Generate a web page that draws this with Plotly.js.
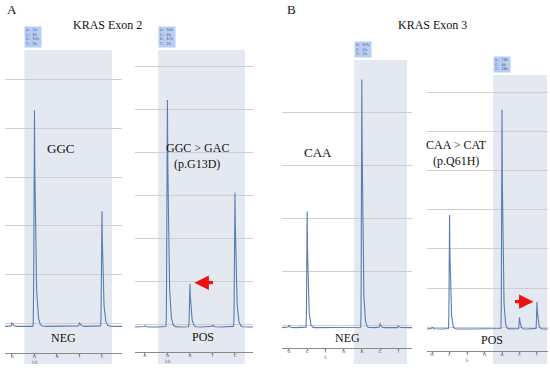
<!DOCTYPE html>
<html><head><meta charset="utf-8">
<script src="https://cdn.plot.ly/plotly-3.0.1.min.js"></script>
<style>html,body{margin:0;padding:0;background:#fff}#c{width:550px;height:368px}</style>
</head><body><div id="c"></div>
<script>
// ---- data ----
const dispensations1 = ['A','G','A','T','C'];
const peaks1 = [0.08, 4.44, 0.0, 0.08, 2.37];      // KRAS exon 2, NEG
const dispensations2 = ['A','G','A','T','C'];
const peaks2 = [0.03, 5.28, 1.0, 0.05, 3.12];      // KRAS exon 2, POS
const dispensations3 = ['G','C','T','G','A','C','T'];
const peaks3 = [0.05, 2.18, 0.0, 0.0, 4.66, 0.08, 0.03]; // KRAS exon 3, NEG
const dispensations4 = ['G','C','T','G','A','C','T'];
const peaks4 = [0.05, 2.92, 0.0, 0.0, 5.62, 0.3, 0.69];  // KRAS exon 3, POS
const tickNumbers1 = ['', '10', '', '', ''];
const tickNumbers2 = ['', '10', '', '', ''];
const tickNumbers3 = ['', '', '5', '', '', '', ''];
const tickNumbers4 = ['', '', '5', '', '', '', ''];
const alleles1 = 'A: 1%<br>C: 6%<br>G: 91%<br>T: 2%';
const alleles2 = 'A: 31%<br>C: 0%<br>G: 67%<br>T: 2%';
const alleles3 = 'A: 97%<br>C: 2%<br>T: 1%';
const alleles4 = 'A: 70%<br>C: 4%<br>T: 26%';

// ---- layout helpers ----
const W = 550, H = 368;
const px = x => x / W, py = y => 1 - y / H;
const LINE = '#5a7db3', GRID = '#cfcfcf', SHADE = '#e4e9f1', AX = '#8a8a8a';
const SERIF = '"Liberation Serif", "DejaVu Serif", serif';

const panels = [
  {disp: dispensations1, peaks: peaks1, nums: tickNumbers1, lab: alleles1,
   xd: [5, 122], yd: [50, 353], xr: [-0.31, 4.89], yr: [-0.617, 5.617], shade: [0.55, 4.45], shadeTop: 50, base: -0.07},
  {disp: dispensations2, peaks: peaks2, nums: tickNumbers2, lab: alleles2,
   xd: [135, 253], yd: [50, 352], xr: [-0.44, 4.8], yr: [-0.651, 6.372], shade: [0.58, 4.44], shadeTop: 50, base: -0.07},
  {disp: dispensations3, peaks: peaks3, nums: tickNumbers3, lab: alleles3,
   xd: [282, 412], yd: [60, 348], xr: [-0.38, 6.75], yr: [-0.432, 4.977], shade: [3.57, 6.48], shadeTop: 60, base: -0.05},
  {disp: dispensations4, peaks: peaks4, nums: tickNumbers4, lab: alleles4,
   xd: [427, 548], yd: [75, 351], xr: [-0.29, 6.63], yr: [-0.615, 6.46], shade: [3.49, 6.57], shadeTop: 75, base: -0.05}
];

function peakShape(d) {
  if (d < 0) return Math.exp(-Math.pow(d / 0.028, 2));
  return Math.exp(-d / 0.055);
}

const data = [];
const layout = {
  width: W, height: H, margin: {l: 0, r: 0, t: 0, b: 0},
  paper_bgcolor: '#fff', plot_bgcolor: 'rgba(0,0,0,0)', showlegend: false,
  shapes: [], annotations: []
};

panels.forEach((p, k) => {
  const n = k + 1, xa = 'x' + (n === 1 ? '' : n), ya = 'y' + (n === 1 ? '' : n);
  const xs = [], ys = [];
  for (let x = p.xr[0]; x <= p.xr[1] + 1e-9; x += 0.005) {
    let v = p.base;
    p.peaks.forEach((h, i) => { v += h * peakShape(x - i); });
    xs.push(x); ys.push(v);
  }
  data.push({x: xs, y: ys, xaxis: xa, yaxis: ya, type: 'scatter', mode: 'lines',
             line: {color: LINE, width: 1.1}, hoverinfo: 'skip'});
  const xkey = 'xaxis' + (n === 1 ? '' : n), ykey = 'yaxis' + (n === 1 ? '' : n);
  layout[xkey] = {
    domain: [px(p.xd[0]), px(p.xd[1])], range: p.xr, anchor: ya,
    showgrid: false, zeroline: false, showline: true, linecolor: AX, linewidth: 1,
    ticks: 'outside', ticklen: 2, tickcolor: AX, tickwidth: 1, ticklabelstandoff: -3,
    tickvals: p.disp.map((_, i) => i),
    ticktext: p.disp.map((d, i) => p.nums[i] ? d + '<br>' + p.nums[i] : d),
    tickfont: {size: 4.5, color: '#666', family: 'DejaVu Sans'}, fixedrange: true
  };
  layout[ykey] = {
    domain: [py(p.yd[1]), py(p.yd[0])], range: p.yr, anchor: xa,
    showgrid: true, gridcolor: GRID, gridwidth: 1, dtick: 1, tick0: 0,
    zeroline: true, zerolinecolor: GRID, zerolinewidth: 1,
    showticklabels: false, ticks: '', showline: false, fixedrange: true
  };
  layout.shapes.push({type: 'rect', xref: xa, yref: 'paper', layer: 'below',
    x0: p.shade[0], x1: p.shade[1], y0: py(364), y1: py(p.shadeTop),
    fillcolor: SHADE, line: {width: 0}});
  layout.annotations.push({xref: xa, yref: 'paper', x: p.shade[0], y: py(p.shadeTop - 2),
    xanchor: 'left', yanchor: 'bottom', text: p.lab, align: 'left', showarrow: false,
    bgcolor: '#b7cdf3', borderpad: 1, font: {size: 3.6, color: '#3a4a7a', family: 'DejaVu Sans Mono'}});
});

function txt(t, x, y, size) {
  layout.annotations.push({xref: 'paper', yref: 'paper', x: px(x), y: py(y),
    xanchor: 'center', yanchor: 'middle', text: t, showarrow: false,
    font: {family: SERIF, size: size, color: '#111'}});
}
txt('A', 12, 9, 13);
txt('B', 291, 9, 13);
txt('KRAS Exon 2', 107, 25, 12);
txt('KRAS Exon 3', 432, 25, 12);
txt('GGC', 60, 148, 13);
txt('GGC &gt; GAC', 197, 148, 12);
txt('(p.G13D)', 197, 164, 12);
txt('CAA', 318, 152, 13);
txt('CAA &gt; CAT', 456, 145, 12);
txt('(p.Q61H)', 456, 161, 12);
txt('NEG', 63, 338, 12);
txt('POS', 203, 337, 12);
txt('NEG', 347, 338, 12);
txt('POS', 492, 340, 12);

// red arrows pointing at the mutant peaks
layout.annotations.push({xref: 'x2', yref: 'y2', x: 2.2, y: peaks2[2] - 0.04, ax: 20, ay: 0,
  showarrow: true, arrowcolor: '#ee1111', arrowwidth: 3.2, arrowhead: 2, arrowsize: 0.9, text: ''});
layout.annotations.push({xref: 'x4', yref: 'y4', x: 5.8, y: peaks4[6] - 0.04, ax: -20, ay: 0,
  showarrow: true, arrowcolor: '#ee1111', arrowwidth: 3.2, arrowhead: 2, arrowsize: 0.9, text: ''});

Plotly.newPlot('c', data, layout, {staticPlot: true, displayModeBar: false});
</script></body></html>
